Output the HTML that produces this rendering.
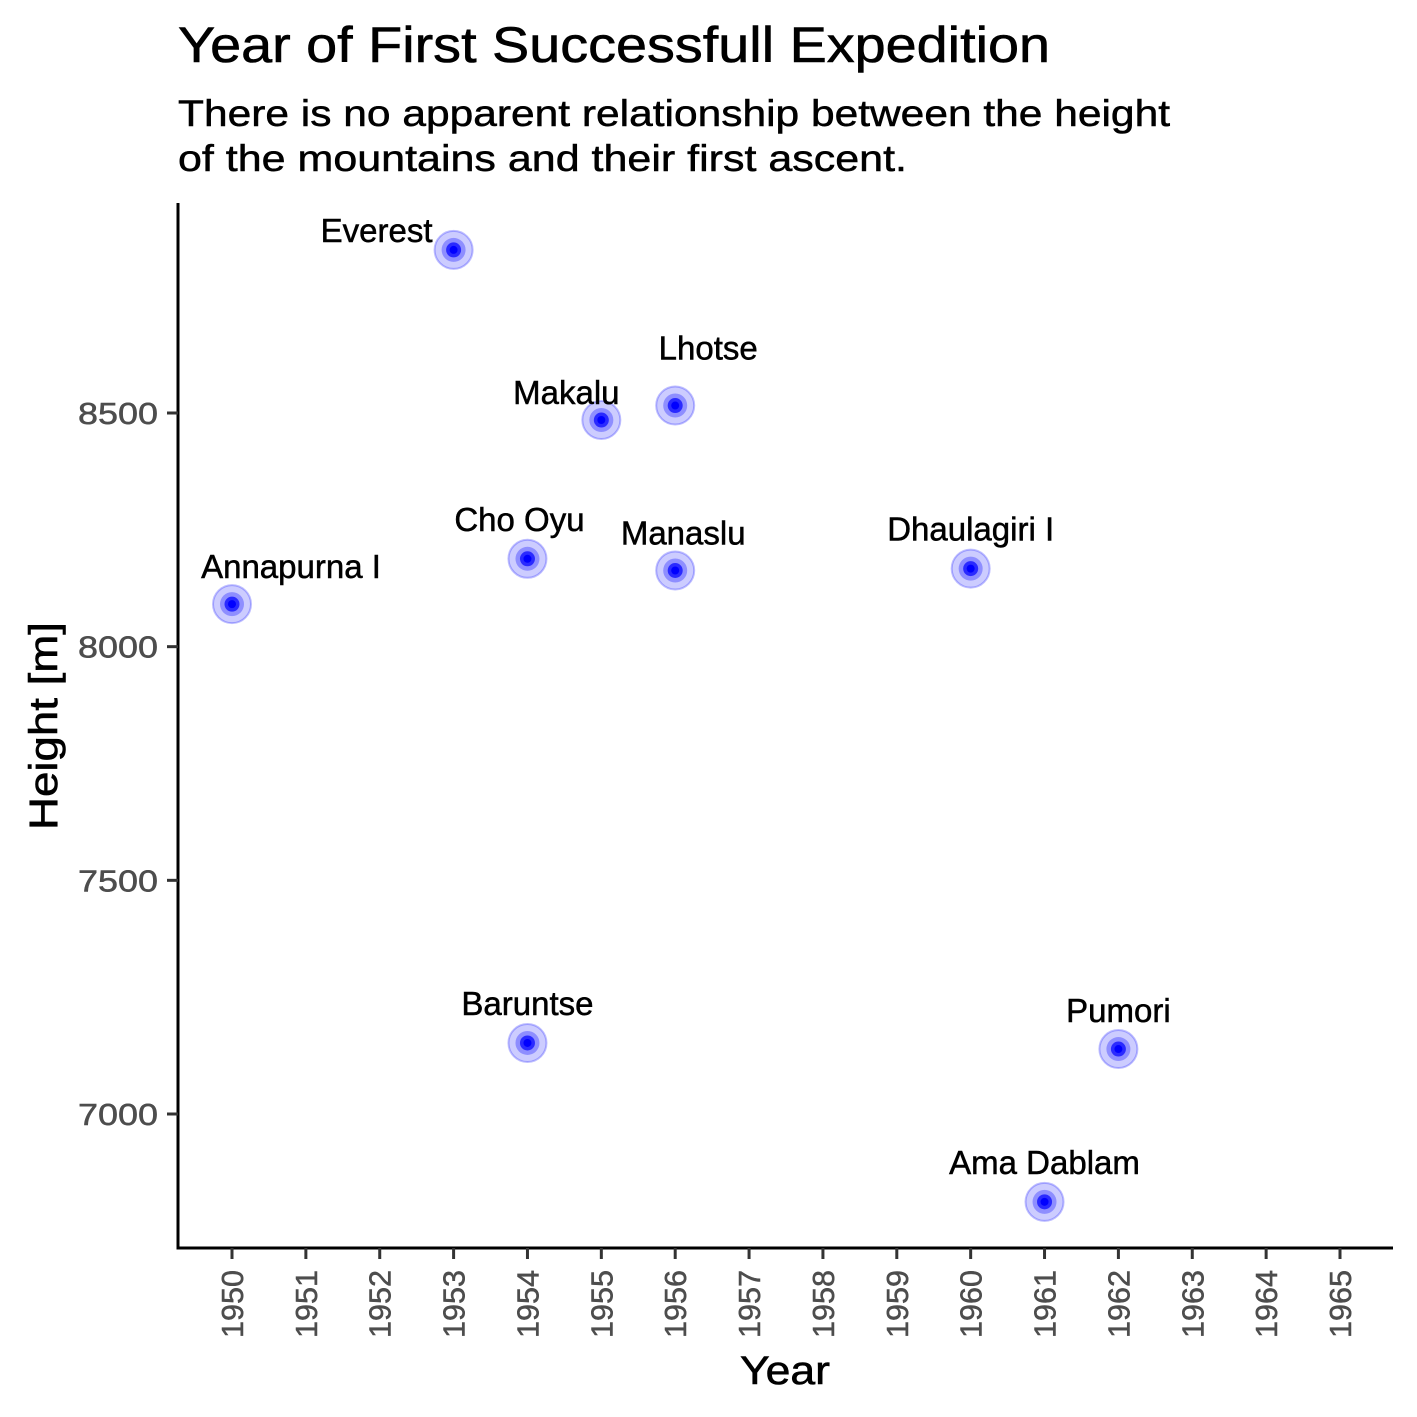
<!DOCTYPE html>
<html><head><meta charset="utf-8"><style>
body{margin:0;background:#fff}
svg{display:block;font-family:"Liberation Sans",sans-serif}
</style></head><body>
<svg id="chart" width="1417" height="1417" viewBox="0 0 1417 1417">
<text x="178" y="62" font-size="50" fill="#000" stroke="#000" stroke-width="0.6" textLength="872" lengthAdjust="spacingAndGlyphs">Year of First Successfull Expedition</text>
<text x="178" y="126" font-size="37" fill="#000" stroke="#000" stroke-width="0.5" textLength="992" lengthAdjust="spacingAndGlyphs">There is no apparent relationship between the height</text>
<text x="178" y="171" font-size="37" fill="#000" stroke="#000" stroke-width="0.5" textLength="729" lengthAdjust="spacingAndGlyphs">of the mountains and their first ascent.</text>
<g id="axes"></g>
<g id="points"></g>
<text x="785" y="1384" font-size="40" text-anchor="middle" fill="#000" stroke="#000" stroke-width="0.6" textLength="90" lengthAdjust="spacingAndGlyphs">Year</text>
<text transform="translate(57,726) rotate(-90)" font-size="40" text-anchor="middle" fill="#000" stroke="#000" stroke-width="0.6" textLength="208" lengthAdjust="spacingAndGlyphs">Height [m]</text>
</svg>
<script>
const names=["Everest","Makalu","Lhotse","Cho Oyu","Manaslu","Dhaulagiri I","Annapurna I","Baruntse","Pumori","Ama Dablam"];
const years=[1953,1955,1956,1954,1956,1960,1950,1954,1962,1961];
const heights=[8849,8485,8516,8188,8163,8167,8091,7152,7139,6812];
const xTicks=[1950,1951,1952,1953,1954,1955,1956,1957,1958,1959,1960,1961,1962,1963,1964,1965];
const yTicks=[7000,7500,8000,8500];
const labelDx=[-77,-35,33,-8,8,0,59,0,0,0];
const labelDy=[-8,-16,-46,-28,-26,-28,-26,-28,-27,-28];
const NS="http://www.w3.org/2000/svg";
function X(v){return 232+(v-1950)*(1340-232)/15;}
function Y(v){return 413+(8500-v)*(1114-413)/1500;}
function mk(t,a,p){const e=document.createElementNS(NS,t);for(const k in a)e.setAttribute(k,a[k]);p.appendChild(e);return e;}
const ax=document.getElementById('axes'),pg=document.getElementById('points');
const yl=mk('line',{x1:178,y1:203,x2:178,y2:1249,stroke:'#000','stroke-width':3},ax);


const xl=mk('line',{x1:176.5,y1:1248,x2:1393,y2:1248,stroke:'#000','stroke-width':3},ax);


xTicks.forEach(t=>{
  const x=X(t);
  const l=mk('line',{x1:x,y1:1248,x2:x,y2:1259,stroke:'#333','stroke-width':3},ax);
  
  
  const tx=mk('text',{transform:`translate(${x+11},1270) rotate(-90)`,'font-size':31,fill:'#4d4d4d',stroke:'#4d4d4d','stroke-width':0.5,'text-anchor':'end',textLength:68,lengthAdjust:'spacingAndGlyphs'},ax);
  tx.textContent=t;
  
  
});
yTicks.forEach(t=>{
  const y=Y(t);
  const l=mk('line',{x1:167,y1:y,x2:178,y2:y,stroke:'#333','stroke-width':3},ax);
  
  
  const tx=mk('text',{x:158,y:y+11,'font-size':31,fill:'#4d4d4d',stroke:'#4d4d4d','stroke-width':0.5,'text-anchor':'end',textLength:80,lengthAdjust:'spacingAndGlyphs'},ax);
  tx.textContent=t;
  
  
});
names.forEach((n,i)=>{
  const x=X(years[i]),y=Y(heights[i]);
  const g=mk('g',{},pg);
  
  
  mk('circle',{cx:x,cy:y,r:19,fill:'#0000ff','fill-opacity':0.2,stroke:'#0000ff','stroke-opacity':0.25,'stroke-width':2},g);
  mk('circle',{cx:x,cy:y,r:12,fill:'#0000ff','fill-opacity':0.3},g);
  mk('circle',{cx:x,cy:y,r:7.5,fill:'#0000ff','fill-opacity':0.7},g);
  mk('circle',{cx:x,cy:y,r:4,fill:'#0000ff'},g);
  const t=mk('text',{x:x+labelDx[i],y:y+labelDy[i],'font-size':33,'text-anchor':'middle',fill:'#000',stroke:'#000','stroke-width':0.5},pg);
  t.textContent=n;
  
  
});
</script>
</body></html>
